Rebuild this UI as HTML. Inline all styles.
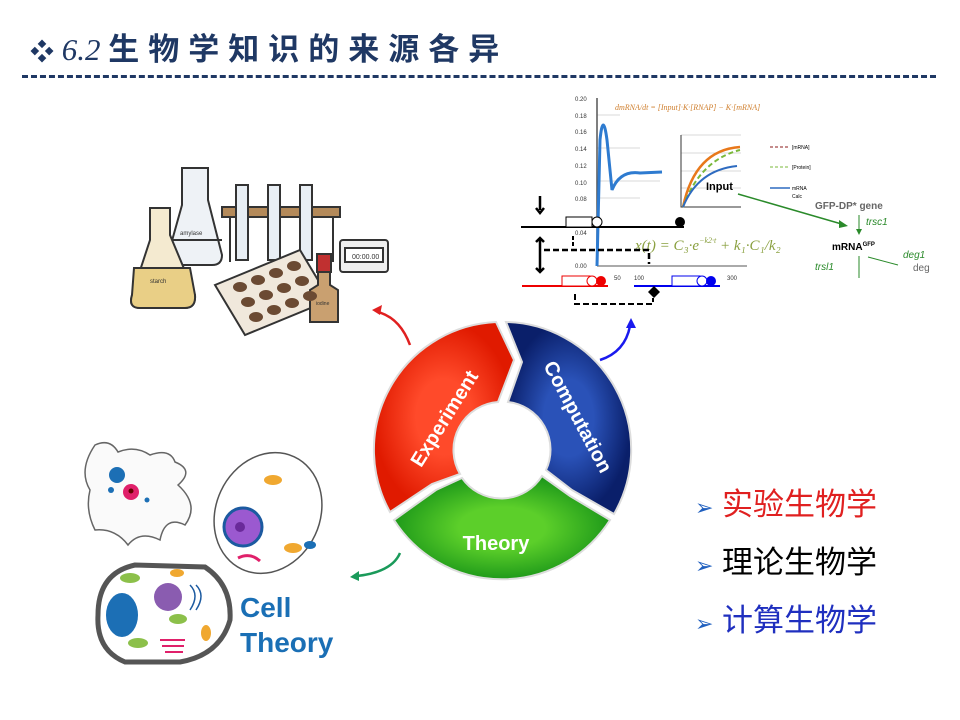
<!DOCTYPE html>
<html><head><meta charset="utf-8"><style>
body{margin:0;width:960px;height:720px;background:#fff;overflow:hidden;position:relative;font-family:"Liberation Sans","Noto Sans CJK SC",sans-serif}
.t{position:absolute;white-space:nowrap}
</style></head><body>
<div class="t" style="left:30px;top:24px;font-size:31px;color:#1f3864;font-weight:bold;font-family:'Liberation Serif','Noto Sans CJK SC',serif"><span style="font-size:24px">❖</span> <i style="font-weight:normal">6.2</i> <span style="letter-spacing:9px">生物学知识的来源各异</span></div>
<div style="position:absolute;left:22px;top:75px;width:914px;border-top:3px dashed #1f3864"></div>

<svg width="960" height="720" style="position:absolute;left:0;top:0" font-family="Liberation Sans,sans-serif">
<defs>
<radialGradient id="gr" cx="0.5" cy="0.5" r="0.5"><stop offset="0.4" stop-color="#ff4a2a"/><stop offset="1" stop-color="#e01a00"/></radialGradient>
<radialGradient id="gb" cx="0.5" cy="0.5" r="0.5"><stop offset="0.4" stop-color="#2a52b8"/><stop offset="1" stop-color="#0a1f6a"/></radialGradient>
<radialGradient id="gg" cx="0.5" cy="0.5" r="0.5"><stop offset="0.4" stop-color="#5ccf2a"/><stop offset="1" stop-color="#1f9a1a"/></radialGradient>
</defs>
<g transform="translate(502,450)">
<path d="M-112,62 A128,128 0 0 1 -6,-128 L12,-90 L-4,-48 A48,48 0 0 0 -42,24 L-70,34 Z" fill="url(#gr)" stroke="#ddd" stroke-width="2"/>
<path d="M4,-128 A128,128 0 0 1 112,64 L70,40 L44,20 A48,48 0 0 0 6,-48 L20,-88 Z" fill="url(#gb)" stroke="#ddd" stroke-width="2"/>
<path d="M108,70 A128,128 0 0 1 -108,70 L-66,40 L-40,28 A48,48 0 0 0 40,26 L68,46 Z" fill="url(#gg)" stroke="#ddd" stroke-width="2"/>
<text transform="translate(-52,-28) rotate(-58)" text-anchor="middle" font-size="20" font-weight="bold" fill="#fff">Experiment</text>
<text transform="translate(70,-30) rotate(62)" text-anchor="middle" font-size="20" font-weight="bold" fill="#fff">Computation</text>
<text x="-6" y="100" text-anchor="middle" font-size="20" font-weight="bold" fill="#fff">Theory</text>
</g>
<path d="M410,345 Q400,318 378,312" stroke="#e02020" stroke-width="2.5" fill="none"/><path d="M372,310 l10,-5 l-2,10z" fill="#e02020"/>
<path d="M600,360 Q625,352 630,326" stroke="#1a1aee" stroke-width="2.5" fill="none"/><path d="M631,318 l5,10 l-10,0z" fill="#1a1aee"/>
<path d="M400,553 Q392,572 357,576" stroke="#1a9a5a" stroke-width="2.5" fill="none"/><path d="M350,577 l9,-6 l0,10z" fill="#1a9a5a"/>

<g stroke="#333" stroke-width="2" fill="none">
<rect x="222" y="207" width="118" height="10" fill="#b48a5a"/>
<line x1="230" y1="217" x2="230" y2="262"/><line x1="333" y1="217" x2="333" y2="262"/>
<rect x="236" y="185" width="12" height="75" fill="#e8eef4"/><rect x="268" y="185" width="12" height="75" fill="#e8eef4"/><rect x="300" y="185" width="12" height="75" fill="#e8eef4"/>
<path d="M182,168 L208,168 L208,200 L222,255 Q222,265 212,265 L172,265 Q164,265 168,255 L182,205 Z" fill="#eef2f6"/>
<path d="M168,240 L222,240" />
<path d="M150,208 L170,208 L170,235 L195,295 Q196,308 185,308 L140,308 Q128,308 132,295 L150,240 Z" fill="#f4ead0"/>
<path d="M134,268 L190,268 L195,295 Q196,308 185,308 L140,308 Q128,308 132,295Z" fill="#e9cf86"/>
<path d="M215,285 L300,250 L330,300 L245,335 Z" fill="#f0e8dc"/>
<rect x="340" y="240" width="48" height="32" rx="3" fill="#eee"/>
<rect x="345" y="248" width="38" height="14" fill="#fff"/>
<path d="M318,272 L330,272 L330,285 L338,290 L338,322 L310,322 L310,290 L318,285Z" fill="#c9a070"/>
<rect x="317" y="254" width="14" height="18" fill="#c03030"/>
</g>
<g fill="#6b4a33"><ellipse cx="240" cy="287" rx="7" ry="5"/><ellipse cx="258" cy="280" rx="7" ry="5"/><ellipse cx="276" cy="273" rx="7" ry="5"/><ellipse cx="294" cy="266" rx="7" ry="5"/><ellipse cx="248" cy="302" rx="7" ry="5"/><ellipse cx="266" cy="295" rx="7" ry="5"/><ellipse cx="284" cy="288" rx="7" ry="5"/><ellipse cx="302" cy="281" rx="7" ry="5"/><ellipse cx="256" cy="317" rx="7" ry="5"/><ellipse cx="274" cy="310" rx="7" ry="5"/><ellipse cx="292" cy="303" rx="7" ry="5"/><ellipse cx="310" cy="296" rx="7" ry="5"/></g>
<text x="352" y="259" font-size="7" fill="#333">00:00.00</text>
<text x="180" y="235" font-size="6" fill="#333">amylase</text><text x="150" y="283" font-size="6" fill="#333">starch</text><text x="316" y="305" font-size="5" fill="#333">iodine</text>

<g font-size="6" fill="#333">
<text x="575" y="101">0.20</text><text x="575" y="118">0.18</text><text x="575" y="134">0.16</text><text x="575" y="151">0.14</text><text x="575" y="168">0.12</text><text x="575" y="185">0.10</text><text x="575" y="201">0.08</text><text x="575" y="235">0.04</text><text x="575" y="268">0.00</text>
<text x="614" y="280">50</text><text x="634" y="280">100</text><text x="727" y="280">300</text>
</g>
<g stroke="#ccc" stroke-width="0.8"><line x1="597" y1="115" x2="620" y2="115"/><line x1="597" y1="148" x2="640" y2="148"/><line x1="597" y1="181" x2="660" y2="181"/><line x1="597" y1="198" x2="640" y2="198"/></g>
<line x1="597" y1="98" x2="597" y2="266" stroke="#555" stroke-width="1.5"/>
<line x1="597" y1="266" x2="747" y2="266" stroke="#555"/>
<path d="M597,266 L600,140 Q603,110 607,140 L612,190 Q620,170 640,173 L662,172" stroke="#2e7bd0" stroke-width="3" fill="none"/>
<text x="615" y="110" font-size="8" fill="#d08030" font-style="italic" font-family="Liberation Serif,serif">dmRNA/dt = [Input]·K·[RNAP] − K·[mRNA]</text>
<g stroke="#ccc" stroke-width="0.8"><line x1="681" y1="135" x2="741" y2="135"/><line x1="681" y1="153" x2="741" y2="153"/><line x1="681" y1="171" x2="741" y2="171"/><line x1="681" y1="188" x2="741" y2="188"/></g>
<path d="M681,135 L681,207 L741,207" stroke="#333" fill="none"/>
<path d="M683,207 Q695,150 740,147" stroke="#e8781a" stroke-width="2.5" fill="none"/>
<path d="M683,207 Q700,160 740,150" stroke="#7ab83a" stroke-width="2" stroke-dasharray="5,3" fill="none"/>
<path d="M683,207 Q698,170 737,166" stroke="#2e6bc0" stroke-width="2" fill="none"/>
<text x="706" y="190" font-size="11" font-weight="bold">Input</text>
<line x1="770" y1="147" x2="790" y2="147" stroke="#8b1a1a" stroke-dasharray="3,2"/><text x="792" y="149" font-size="5">[mRNA]</text>
<line x1="770" y1="167" x2="790" y2="167" stroke="#7ab83a" stroke-dasharray="3,2"/><text x="792" y="169" font-size="5">[Protein]</text>
<line x1="770" y1="188" x2="790" y2="188" stroke="#2e6bc0" stroke-width="1.5"/><text x="792" y="190" font-size="5">mRNA</text><text x="792" y="198" font-size="5">Calc</text>
<text x="635" y="250" font-size="15" fill="#8aa040" font-style="italic" font-family="Liberation Serif,serif">x(t) = C₃·e<tspan font-size="8" dy="-7">−k2·t</tspan><tspan dy="7"> + k₁·C₁/k₂</tspan></text>
<line x1="738" y1="194" x2="845" y2="225" stroke="#2a8a2a" stroke-width="1.5"/><path d="M848,226 l-9,-6 l0,8z" fill="#2a8a2a"/>
<text x="815" y="209" font-size="10" font-weight="bold" fill="#666">GFP-DP* gene</text>
<line x1="859" y1="215" x2="859" y2="232" stroke="#2a8a2a"/><path d="M859,235 l-3,-6 h6z" fill="#2a8a2a"/>
<text x="866" y="225" font-size="10" fill="#2a8a2a" font-style="italic">trsc1</text>
<text x="832" y="250" font-size="10" font-weight="bold">mRNA<tspan font-size="6" dy="-4">GFP</tspan></text>
<line x1="859" y1="256" x2="859" y2="278" stroke="#2a8a2a"/>
<line x1="868" y1="257" x2="898" y2="265" stroke="#2a8a2a"/>
<text x="903" y="258" font-size="10" fill="#2a8a2a" font-style="italic">deg1</text><text x="913" y="271" font-size="10" fill="#666">deg</text>
<text x="815" y="270" font-size="10" fill="#2a8a2a" font-style="italic">trsl1</text>
<line x1="521" y1="227" x2="684" y2="227" stroke="#000" stroke-width="2"/>
<rect x="566" y="217" width="26" height="10" fill="#fff" stroke="#000"/><circle cx="597" cy="222" r="5" fill="#fff" stroke="#000"/><circle cx="680" cy="222" r="5" fill="#000"/>
<path d="M540,196 v14 M536,208 l4,5 l4,-5" stroke="#000" stroke-width="2.5" fill="none"/>
<path d="M540,238 v34 M536,242 l4,-4 l4,4 M536,268 l4,4 l4,-4" stroke="#000" stroke-width="2.5" fill="none"/>
<path d="M544,250 h105 v14" stroke="#000" stroke-width="2.5" stroke-dasharray="6,3" fill="none"/>
<path d="M573,236 v10" stroke="#000" stroke-width="2" stroke-dasharray="4,2"/>
<line x1="522" y1="286" x2="608" y2="286" stroke="#e00" stroke-width="2"/>
<rect x="562" y="276" width="28" height="10" fill="#fff" stroke="#e00"/><circle cx="592" cy="281" r="5" fill="#fff" stroke="#e00"/><circle cx="601" cy="281" r="5" fill="#e00"/>
<line x1="634" y1="286" x2="720" y2="286" stroke="#00e" stroke-width="2"/>
<rect x="672" y="276" width="28" height="10" fill="#fff" stroke="#00e"/><circle cx="702" cy="281" r="5" fill="#fff" stroke="#00e"/><circle cx="711" cy="281" r="5" fill="#00e"/>
<path d="M654,286 l6,6 l-6,6 l-6,-6z" fill="#000"/>
<path d="M575,294 v10 h78 v-6" stroke="#000" stroke-width="2" stroke-dasharray="6,3" fill="none"/>

<path d="M95,445 Q110,438 118,452 Q135,445 150,455 Q170,448 175,462 Q195,470 178,485 Q200,505 185,525 Q165,515 160,540 Q140,530 128,545 Q115,528 95,530 Q85,510 90,490 Q78,470 95,445Z" fill="#fafafa" stroke="#666" stroke-width="1.5"/>
<circle cx="117" cy="475" r="8" fill="#1c6fb5"/><circle cx="131" cy="492" r="8" fill="#e0206a"/><circle cx="131" cy="491" r="2.5" fill="#600"/><circle cx="111" cy="490" r="3" fill="#1c6fb5"/><circle cx="147" cy="500" r="2.5" fill="#1c6fb5"/>
<ellipse cx="268" cy="513" rx="52" ry="62" transform="rotate(25 268 513)" fill="#fff" stroke="#555" stroke-width="1.5"/>
<circle cx="243" cy="527" r="19" fill="#9b59d0" stroke="#1c5aa0" stroke-width="3"/><circle cx="240" cy="527" r="5" fill="#6a2a9a"/>
<ellipse cx="273" cy="480" rx="9" ry="5" fill="#f0a830"/><ellipse cx="293" cy="548" rx="9" ry="5" fill="#f0a830"/><ellipse cx="310" cy="545" rx="6" ry="4" fill="#1c6fb5"/>
<path d="M238,558 q12,-6 22,3" stroke="#e0206a" stroke-width="3" fill="none"/>
<path d="M98,615 Q98,573 135,565 L205,567 Q232,585 230,620 Q220,655 180,662 L125,662 Q96,650 98,615Z" fill="#fff" stroke="#555" stroke-width="5"/>
<ellipse cx="122" cy="615" rx="16" ry="22" fill="#1c6fb5"/>
<circle cx="168" cy="597" r="14" fill="#8a5cb0"/><ellipse cx="130" cy="578" rx="10" ry="5" fill="#8cc04a"/><ellipse cx="178" cy="619" rx="9" ry="5" fill="#8cc04a"/><ellipse cx="138" cy="643" rx="10" ry="5" fill="#8cc04a"/>
<ellipse cx="177" cy="573" rx="7" ry="4" fill="#f0a830"/><ellipse cx="206" cy="633" rx="5" ry="8" fill="#f0a830"/>
<path d="M160,640 h25 M162,646 h22 M165,652 h18" stroke="#e0206a" stroke-width="2"/>
<path d="M190,585 q10,10 0,25 M196,585 q10,10 0,25" stroke="#1c5aa0" stroke-width="1.5" fill="none"/>
</svg>
<div class="t" style="left:240px;top:590px;font-size:28px;font-weight:bold;color:#1a6fb5;line-height:35px">Cell<br>Theory</div>

<div class="t" style="left:695px;top:488px;font-size:31px;color:#e02020;line-height:34px"><span style="color:#1f5fbf;font-size:22px">➢</span> 实验生物学</div>
<div class="t" style="left:695px;top:546px;font-size:31px;color:#000;line-height:34px"><span style="color:#1f5fbf;font-size:22px">➢</span> 理论生物学</div>
<div class="t" style="left:695px;top:604px;font-size:31px;color:#1f2fbf;line-height:34px"><span style="color:#1f5fbf;font-size:22px">➢</span> 计算生物学</div>
</body></html>
